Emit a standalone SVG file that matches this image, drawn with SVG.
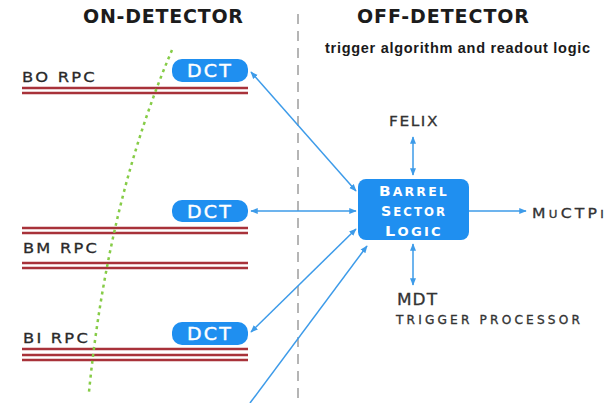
<svg xmlns="http://www.w3.org/2000/svg" width="608" height="403" viewBox="0 0 608 403">
<defs>
<marker id="ah" viewBox="0 0 10 10" refX="9" refY="5" markerWidth="5" markerHeight="5" orient="auto-start-reverse" markerUnits="strokeWidth">
<path d="M0,1 L10,5 L0,9 z" fill="#3d9be9"/>
</marker>
<style>
.title{font-family:"DejaVu Sans","Liberation Sans",sans-serif;font-weight:bold;font-size:19px;fill:#1c1c1c}
.rpc{font-family:"DejaVu Sans","Liberation Sans",sans-serif;font-size:14.5px;fill:#2a2a2a;stroke:#2a2a2a;stroke-width:0.3;letter-spacing:2px}
.red{stroke:#a8323a;stroke-width:2.6;fill:none}
.dct{fill:#1f8ff0}
.dcttxt{font-family:"DejaVu Sans","Liberation Sans",sans-serif;font-size:17px;fill:#ffffff;stroke:#ffffff;stroke-width:0.4;text-anchor:middle;letter-spacing:2px}
.conn{stroke:#3d9be9;stroke-width:1.5;fill:none;marker-end:url(#ah)}
.both{marker-start:url(#ah)}
.lbl{font-family:"DejaVu Sans","Liberation Sans",sans-serif;fill:#333;stroke:#333;stroke-width:0.3}
.bsl{font-family:"DejaVu Sans","Liberation Sans",sans-serif;fill:#fff;font-weight:bold;text-anchor:middle;letter-spacing:2px}
</style>
</defs>
<rect width="608" height="403" fill="#ffffff"/>

<text class="title" x="83" y="23" textLength="160">ON-DETECTOR</text>
<text class="title" x="357" y="23" textLength="172">OFF-DETECTOR</text>
<text x="325" y="53" textLength="265" style="font-family:'Liberation Sans',sans-serif;font-weight:bold;font-size:14.5px;fill:#1a1a1a">trigger algorithm and readout logic</text>

<line x1="298" y1="14" x2="298" y2="403" stroke="#b5b5b5" stroke-width="2" stroke-dasharray="10,7"/>

<g id="bo-rpc">
<text class="rpc" x="22" y="82" textLength="75" lengthAdjust="spacingAndGlyphs">BO RPC</text>
<line class="red" x1="22" y1="88" x2="248" y2="88"/>
<line class="red" x1="22" y1="93" x2="248" y2="93"/>
</g>
<g id="bm-rpc">
<line class="red" x1="22" y1="228" x2="248" y2="228"/>
<line class="red" x1="22" y1="233" x2="248" y2="233"/>
<text class="rpc" x="23" y="253" textLength="76" lengthAdjust="spacingAndGlyphs">BM RPC</text>
<line class="red" x1="22" y1="263" x2="248" y2="263"/>
<line class="red" x1="22" y1="268" x2="248" y2="268"/>
</g>
<g id="bi-rpc">
<text class="rpc" x="23" y="343" textLength="67" lengthAdjust="spacingAndGlyphs">BI RPC</text>
<line class="red" x1="22" y1="349" x2="248" y2="349"/>
<line class="red" x1="22" y1="355" x2="248" y2="355"/>
<line class="red" x1="22" y1="360" x2="248" y2="360"/>
</g>

<path id="green-track" d="M172,50 Q108,200 89,392" fill="none" stroke="#86cc47" stroke-width="2.5" stroke-dasharray="3,4"/>

<g id="dct-top">
<rect class="dct" x="172" y="59" width="76" height="23" rx="10"/>
<text class="dcttxt" x="210" y="77" textLength="46" lengthAdjust="spacingAndGlyphs">DCT</text>
</g>
<g id="dct-mid">
<rect class="dct" x="172" y="200" width="76" height="22" rx="10"/>
<text class="dcttxt" x="210" y="218" textLength="46" lengthAdjust="spacingAndGlyphs">DCT</text>
</g>
<g id="dct-bot">
<rect class="dct" x="172" y="322" width="76" height="23" rx="10"/>
<text class="dcttxt" x="210" y="340" textLength="46" lengthAdjust="spacingAndGlyphs">DCT</text>
</g>

<g id="bsl">
<rect x="358" y="179" width="111" height="61" rx="8" fill="#1f8ff0"/>
<text class="bsl" x="414" y="196" textLength="70" lengthAdjust="spacingAndGlyphs"><tspan font-size="14">B</tspan><tspan font-size="11.5">ARREL</tspan></text>
<text class="bsl" x="414" y="216" textLength="66" lengthAdjust="spacingAndGlyphs"><tspan font-size="14">S</tspan><tspan font-size="11.5">ECTOR</tspan></text>
<text class="bsl" x="414" y="236" textLength="58" lengthAdjust="spacingAndGlyphs"><tspan font-size="14">L</tspan><tspan font-size="11.5">OGIC</tspan></text>
</g>

<g id="felix"><text class="lbl" x="389" y="126" font-size="14.5" letter-spacing="1.5" textLength="50" lengthAdjust="spacingAndGlyphs">FELIX</text></g>
<g id="mdt">
<text class="lbl" x="397" y="305" font-size="16.5" letter-spacing="1" textLength="41" lengthAdjust="spacingAndGlyphs">MDT</text>
<text class="lbl" x="396" y="324" font-size="11.5" letter-spacing="3" textLength="187" lengthAdjust="spacingAndGlyphs">TRIGGER PROCESSOR</text>
</g>
<g id="muctpi"><text class="lbl" x="532" y="218" letter-spacing="3" textLength="75" lengthAdjust="spacingAndGlyphs"><tspan font-size="14.5">M</tspan><tspan font-size="11">U</tspan><tspan font-size="14.5">CTP</tspan><tspan font-size="11">I</tspan></text></g>

<g id="connectors">
<line class="conn both" x1="251" y1="72" x2="356" y2="191"/>
<line class="conn both" x1="251" y1="211" x2="356" y2="211"/>
<line class="conn both" x1="251" y1="332" x2="356" y2="229"/>
<line class="conn" x1="250" y1="403" x2="367" y2="246"/>
<line class="conn both" x1="413" y1="137" x2="413" y2="175"/>
<line class="conn both" x1="413" y1="244" x2="413" y2="285"/>
<line class="conn" x1="469" y1="211" x2="526" y2="211"/>
</g>
</svg>
